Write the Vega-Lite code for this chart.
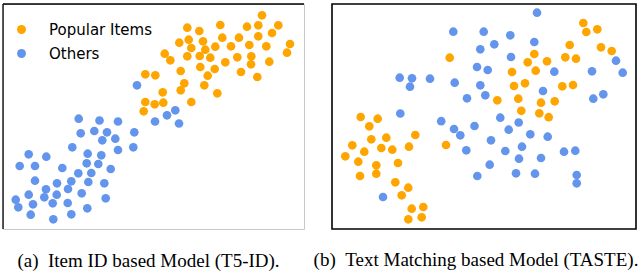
{
  "$schema": "https://vega.github.io/schema/vega-lite/v6.json",
  "padding": {"left": 1, "top": 2, "right": 2, "bottom": 0},
  "background": "white",
  "spacing": 28,
  "bounds": "flush",
  "datasets": {
    "a": [
      {"x":259,"y":213.7,"group":"Popular Items"},{"x":184.3,"y":201.3,"group":"Popular Items"},{"x":196.3,"y":198,"group":"Popular Items"},{"x":217.3,"y":204,"group":"Popular Items"},{"x":244,"y":202.3,"group":"Popular Items"},{"x":255.3,"y":203.7,"group":"Popular Items"},{"x":275.3,"y":203.7,"group":"Popular Items"},{"x":269,"y":196,"group":"Popular Items"},{"x":255.3,"y":192.7,"group":"Popular Items"},{"x":236,"y":191.3,"group":"Popular Items"},
      {"x":219.3,"y":191.3,"group":"Popular Items"},{"x":185.7,"y":189.3,"group":"Popular Items"},{"x":176.3,"y":186.3,"group":"Popular Items"},{"x":200,"y":187.7,"group":"Popular Items"},{"x":188.3,"y":181,"group":"Popular Items"},{"x":212.3,"y":182.3,"group":"Popular Items"},{"x":228,"y":182.7,"group":"Popular Items"},{"x":246.3,"y":184,"group":"Popular Items"},{"x":263.3,"y":182.7,"group":"Popular Items"},{"x":287,"y":185,"group":"Popular Items"},
      {"x":284,"y":176.3,"group":"Popular Items"},{"x":202.3,"y":179.3,"group":"Popular Items"},{"x":161.7,"y":175.3,"group":"Popular Items"},{"x":167.3,"y":168.7,"group":"Popular Items"},{"x":184.3,"y":172.7,"group":"Popular Items"},{"x":196.7,"y":173,"group":"Popular Items"},{"x":207.3,"y":171.3,"group":"Popular Items"},{"x":222.3,"y":166.7,"group":"Popular Items"},{"x":234.3,"y":171.7,"group":"Popular Items"},{"x":248.3,"y":172.7,"group":"Popular Items"},
      {"x":248,"y":164.7,"group":"Popular Items"},{"x":266.3,"y":167.3,"group":"Popular Items"},{"x":197.3,"y":162,"group":"Popular Items"},{"x":211.7,"y":160,"group":"Popular Items"},{"x":177.7,"y":158,"group":"Popular Items"},{"x":238,"y":157,"group":"Popular Items"},{"x":254.3,"y":152,"group":"Popular Items"},{"x":204.7,"y":153.3,"group":"Popular Items"},{"x":152.3,"y":153.7,"group":"Popular Items"},{"x":181.3,"y":145.7,"group":"Popular Items"},
      {"x":177.7,"y":138.7,"group":"Popular Items"},{"x":201.3,"y":143.7,"group":"Popular Items"},{"x":214.3,"y":135.7,"group":"Popular Items"},{"x":159.7,"y":136.7,"group":"Popular Items"},{"x":160.3,"y":126.3,"group":"Popular Items"},{"x":151.7,"y":124.7,"group":"Popular Items"},{"x":188.3,"y":127,"group":"Popular Items"},{"x":142.3,"y":154.7,"group":"Popular Items"},{"x":142.3,"y":127,"group":"Popular Items"},{"x":140.7,"y":117.7,"group":"Popular Items"},
      {"x":134,"y":143.7,"group":"Others"},{"x":75.7,"y":110.3,"group":"Others"},{"x":96.5,"y":108.5,"group":"Others"},{"x":115,"y":107.5,"group":"Others"},{"x":152,"y":107.5,"group":"Others"},{"x":172.3,"y":118.7,"group":"Others"},{"x":164,"y":113.7,"group":"Others"},{"x":176,"y":105.5,"group":"Others"},{"x":77.7,"y":95.7,"group":"Others"},{"x":91.3,"y":98,"group":"Others"},
      {"x":104,"y":96.7,"group":"Others"},{"x":99.3,"y":88.7,"group":"Others"},{"x":112.3,"y":90.3,"group":"Others"},{"x":131.3,"y":96.7,"group":"Others"},{"x":69.3,"y":81.7,"group":"Others"},{"x":84.7,"y":75.3,"group":"Others"},{"x":98.3,"y":73.7,"group":"Others"},{"x":115,"y":79,"group":"Others"},{"x":130.3,"y":81.7,"group":"Others"},{"x":25.7,"y":74.7,"group":"Others"},
      {"x":43.3,"y":72.3,"group":"Others"},{"x":16.7,"y":63,"group":"Others"},{"x":32,"y":63,"group":"Others"},{"x":59.3,"y":61,"group":"Others"},{"x":83.7,"y":65.7,"group":"Others"},{"x":95.3,"y":65,"group":"Others"},{"x":107.7,"y":60,"group":"Others"},{"x":75.3,"y":55.7,"group":"Others"},{"x":88.3,"y":56,"group":"Others"},{"x":32,"y":48.3,"group":"Others"},
      {"x":54,"y":45.7,"group":"Others"},{"x":68.3,"y":47.7,"group":"Others"},{"x":85.3,"y":47,"group":"Others"},{"x":101.3,"y":45.7,"group":"Others"},{"x":43,"y":39.7,"group":"Others"},{"x":65,"y":40,"group":"Others"},{"x":25.7,"y":34.3,"group":"Others"},{"x":53.7,"y":34.3,"group":"Others"},{"x":78.7,"y":35.7,"group":"Others"},{"x":41.3,"y":31.7,"group":"Others"},
      {"x":102.7,"y":30.7,"group":"Others"},{"x":12.7,"y":29.3,"group":"Others"},{"x":30,"y":24.7,"group":"Others"},{"x":49.7,"y":25.7,"group":"Others"},{"x":64.7,"y":26,"group":"Others"},{"x":15.3,"y":21.7,"group":"Others"},{"x":84.3,"y":20.7,"group":"Others"},{"x":27.7,"y":14.3,"group":"Others"},{"x":68.3,"y":14.7,"group":"Others"},{"x":50.3,"y":9.7,"group":"Others"}
    ],
    "b": [
      {"x":117.7,"y":171.3,"group":"Popular Items"},{"x":28.7,"y":112,"group":"Popular Items"},{"x":45.7,"y":110.3,"group":"Popular Items"},{"x":251.3,"y":206,"group":"Popular Items"},{"x":254.3,"y":197,"group":"Popular Items"},{"x":265.3,"y":199.7,"group":"Popular Items"},{"x":237.7,"y":184,"group":"Popular Items"},{"x":269,"y":181.7,"group":"Popular Items"},{"x":279.7,"y":178,"group":"Popular Items"},{"x":202.3,"y":175,"group":"Popular Items"},
      {"x":195.7,"y":166.7,"group":"Popular Items"},{"x":215,"y":167.7,"group":"Popular Items"},{"x":233.3,"y":171.7,"group":"Popular Items"},{"x":244,"y":170.3,"group":"Popular Items"},{"x":180,"y":157,"group":"Popular Items"},{"x":203.7,"y":158.3,"group":"Popular Items"},{"x":182,"y":143,"group":"Popular Items"},{"x":193,"y":145.7,"group":"Popular Items"},{"x":230.3,"y":142.7,"group":"Popular Items"},{"x":241,"y":144,"group":"Popular Items"},
      {"x":165.3,"y":128.7,"group":"Popular Items"},{"x":186.3,"y":130.3,"group":"Popular Items"},{"x":209,"y":126.3,"group":"Popular Items"},{"x":222.7,"y":127.7,"group":"Popular Items"},{"x":189.3,"y":118.2,"group":"Popular Items"},{"x":207.3,"y":115.7,"group":"Popular Items"},{"x":216.7,"y":111.8,"group":"Popular Items"},{"x":37.3,"y":102.7,"group":"Popular Items"},{"x":83.3,"y":94,"group":"Popular Items"},{"x":39.3,"y":89.7,"group":"Popular Items"},
      {"x":54.3,"y":91.3,"group":"Popular Items"},{"x":20.3,"y":83.7,"group":"Popular Items"},{"x":49.3,"y":81,"group":"Popular Items"},{"x":60.3,"y":79.3,"group":"Popular Items"},{"x":77,"y":82.3,"group":"Popular Items"},{"x":114,"y":84,"group":"Popular Items"},{"x":32.3,"y":77.3,"group":"Popular Items"},{"x":13.3,"y":72.7,"group":"Popular Items"},{"x":26.3,"y":67.3,"group":"Popular Items"},{"x":66,"y":66,"group":"Popular Items"},
      {"x":44.3,"y":63.7,"group":"Popular Items"},{"x":44.3,"y":55.3,"group":"Popular Items"},{"x":28,"y":53,"group":"Popular Items"},{"x":63.3,"y":46.7,"group":"Popular Items"},{"x":76.3,"y":41.3,"group":"Popular Items"},{"x":69.7,"y":33.7,"group":"Popular Items"},{"x":79.7,"y":20.3,"group":"Popular Items"},{"x":91.3,"y":22,"group":"Popular Items"},{"x":76.3,"y":9.7,"group":"Popular Items"},{"x":89.7,"y":11.7,"group":"Popular Items"},
      {"x":121.3,"y":197.3,"group":"Others"},{"x":151.7,"y":197.3,"group":"Others"},{"x":148.3,"y":179.7,"group":"Others"},{"x":145,"y":162,"group":"Others"},{"x":155.7,"y":159,"group":"Others"},{"x":67.7,"y":151.3,"group":"Others"},{"x":80,"y":150.7,"group":"Others"},{"x":78,"y":142.3,"group":"Others"},{"x":98,"y":150.3,"group":"Others"},{"x":122.7,"y":146.3,"group":"Others"},
      {"x":148.3,"y":143.7,"group":"Others"},{"x":153.3,"y":133.7,"group":"Others"},{"x":135,"y":130.7,"group":"Others"},{"x":68.3,"y":115.5,"group":"Others"},{"x":109.2,"y":107.8,"group":"Others"},{"x":142.5,"y":103,"group":"Others"},{"x":205,"y":216.3,"group":"Others"},{"x":178.3,"y":193.7,"group":"Others"},{"x":162.3,"y":184.7,"group":"Others"},{"x":202.3,"y":187,"group":"Others"},
      {"x":179,"y":172,"group":"Others"},{"x":222.3,"y":157.3,"group":"Others"},{"x":260,"y":157.7,"group":"Others"},{"x":284,"y":168.3,"group":"Others"},{"x":290.7,"y":156.3,"group":"Others"},{"x":211,"y":138,"group":"Others"},{"x":261.3,"y":130.3,"group":"Others"},{"x":271.3,"y":134.7,"group":"Others"},{"x":168.3,"y":111.3,"group":"Others"},{"x":186.7,"y":106.5,"group":"Others"},
      {"x":176.7,"y":99.3,"group":"Others"},{"x":198.3,"y":94.7,"group":"Others"},{"x":215.7,"y":92.3,"group":"Others"},{"x":159,"y":88.7,"group":"Others"},{"x":190,"y":82.3,"group":"Others"},{"x":173.3,"y":78,"group":"Others"},{"x":232,"y":77.3,"group":"Others"},{"x":243.3,"y":78.3,"group":"Others"},{"x":187,"y":70.3,"group":"Others"},{"x":209,"y":71,"group":"Others"},
      {"x":157.7,"y":64.3,"group":"Others"},{"x":184,"y":55.7,"group":"Others"},{"x":203,"y":55.3,"group":"Others"},{"x":244.7,"y":54,"group":"Others"},{"x":244.7,"y":45.7,"group":"Others"},{"x":122,"y":100,"group":"Others"},{"x":128.3,"y":93.7,"group":"Others"},{"x":134.3,"y":78.7,"group":"Others"},{"x":145.3,"y":53,"group":"Others"},{"x":51,"y":32,"group":"Others"}
    ]
  },
  "hconcat": [
    {
      "width": 301,
      "height": 225,
      "view": {"stroke": "#c8c8c8", "strokeWidth": 1},
      "title": {"text": "(a)\u00a0\u00a0Item ID based Model (T5-ID).", "orient": "bottom", "font": "Liberation Serif", "fontSize": 19, "fontWeight": "normal", "color": "black", "offset": 22, "dx": -5},
      "layer": [
        {
          "data": {"name": "a"},
          "mark": {"type": "circle", "size": 75, "opacity": 1},
          "encoding": {
            "x": {"field": "x", "type": "quantitative", "scale": {"domain": [0, 301], "nice": false, "zero": false}, "axis": null},
            "y": {"field": "y", "type": "quantitative", "scale": {"domain": [0, 225], "nice": false, "zero": false}, "axis": null},
            "color": {"field": "group", "type": "nominal", "scale": {"domain": ["Popular Items", "Others"], "range": ["#FFA500", "#6495ED"]},
              "legend": {"title": null, "orient": "none", "legendX": 11, "legendY": 18, "labelFont": "DejaVu Sans", "labelFontSize": 15, "labelColor": "black", "symbolType": "circle", "symbolSize": 80, "symbolStrokeWidth": 0, "symbolOpacity": 1, "labelOffset": 20, "rowPadding": 8}}
          }
        },
        {
          "data": {"values": [{"v": 225}]},
          "mark": {"type": "rule", "color": "black", "strokeWidth": 1.3},
          "encoding": {"y": {"field": "v", "type": "quantitative", "axis": null}}
        },
        {
          "data": {"values": [{"v": 0}]},
          "mark": {"type": "rule", "color": "black", "strokeWidth": 1.3},
          "encoding": {"x": {"field": "v", "type": "quantitative", "axis": null}}
        }
      ]
    },
    {
      "width": 304,
      "height": 225,
      "view": {"stroke": "black", "strokeWidth": 1.6},
      "title": {"text": "(b)\u00a0\u00a0Text Matching based Model (TASTE).", "orient": "bottom", "font": "Liberation Serif", "fontSize": 19, "fontWeight": "normal", "color": "black", "offset": 22, "dx": -8},
      "data": {"name": "b"},
      "mark": {"type": "circle", "size": 75, "opacity": 1},
      "encoding": {
        "x": {"field": "x", "type": "quantitative", "scale": {"domain": [0, 304], "nice": false, "zero": false}, "axis": null},
        "y": {"field": "y", "type": "quantitative", "scale": {"domain": [0, 225], "nice": false, "zero": false}, "axis": null},
        "color": {"field": "group", "type": "nominal", "scale": {"domain": ["Popular Items", "Others"], "range": ["#FFA500", "#6495ED"]}, "legend": null}
      }
    }
  ],
  "resolve": {"scale": {"color": "independent"}, "legend": {"color": "independent"}}
}
